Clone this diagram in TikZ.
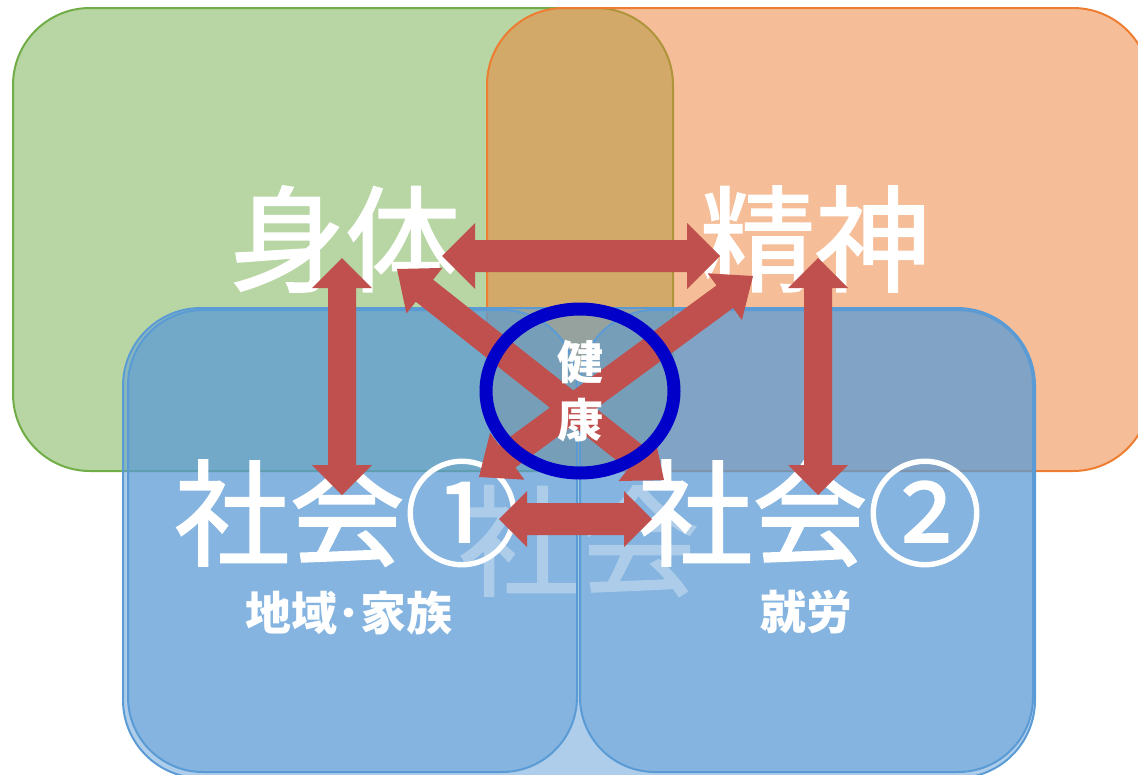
\documentclass[tikz,border=0pt]{standalone}
\usepackage{fontspec}
\newfontfamily\cjk{Noto Sans CJK JP}
\newfontfamily\cjkmed{Noto Sans CJK JP}[FakeBold=1.5]
\usetikzlibrary{calc}
\definecolor{pgreen}{HTML}{70AD47}
\definecolor{porange}{HTML}{ED7D31}
\definecolor{pblue}{HTML}{5B9BD5}
\definecolor{pred}{HTML}{C0504D}
\definecolor{ering}{RGB}{0,0,200}
\tikzset{
  panel/.style={line width=2pt, fill opacity=.5, draw opacity=1},
  bigtxt/.style={text=white, inner sep=0pt, font=\cjkmed\fontsize{115}{120}\selectfont},
  subtxt/.style={text=white, inner sep=0pt, font=\cjk\bfseries\fontsize{46}{50}\selectfont},
  fadetxt/.style={text=white, inner sep=0pt, font=\cjkmed\fontsize{120}{125}\selectfont},
  arrowfill/.style={fill=pred},
}
\newcommand\dblarr[5]{%
  \path ($(#1)!#5!(#2)$) coordinate (ap) ($(#2)!#5!(#1)$) coordinate (aq);
  \fill[arrowfill] (#1) -- ($(ap)!#4!90:(#2)$) -- ($(ap)!#3!90:(#2)$)
    -- ($(aq)!#3!-90:(#1)$) -- ($(aq)!#4!-90:(#1)$) -- (#2)
    -- ($(aq)!#4!90:(#1)$) -- ($(aq)!#3!90:(#1)$)
    -- ($(ap)!#3!-90:(#2)$) -- ($(ap)!#4!-90:(#2)$) -- cycle;}
\begin{document}
\begin{tikzpicture}[x=1pt,y=-1pt]
\useasboundingbox (0,0) rectangle (1138,774);
\begin{scope}
\clip (0,0) rectangle (1138,774);
% green and orange panels
\draw[panel, draw=pgreen, fill=pgreen, rounded corners=77pt] (13,8) rectangle (673,471);
\draw[panel, draw=porange, fill=porange, rounded corners=77pt] (487,8) rectangle (1150,471);
% blue back panel
\draw[panel, draw=pblue, fill=pblue, rounded corners=78pt] (123,308) rectangle (1035,778);
\node[fadetxt] (fade) at (579,541) {社会};
% inner blue panels
\draw[panel, draw=pblue, fill=pblue, rounded corners=75pt] (128,310) rectangle (577,772);
\draw[panel, draw=pblue, fill=pblue, rounded corners=75pt] (580,310) rectangle (1033,772);
\end{scope}
% texts
\node[bigtxt] (body) at (345,239) {身体};
\node[bigtxt] (mind) at (815,239) {精神};
\node[bigtxt] (soc1) at (347,513) {社会①};
\node[bigtxt] (soc2) at (810,513) {社会②};
\node[subtxt] (sub1) at (349,613) {地域･家族};
\node[subtxt] (sub2) at (806,612) {就労};
% arrow end points
\coordinate (bodyE) at (442,256);
\coordinate (mindW) at (720,256);
\coordinate (bodyS) at (342,258);
\coordinate (soc1N) at (342,495);
\coordinate (mindS) at (818,258);
\coordinate (soc2N) at (818,495);
\coordinate (soc1E) at (499,519);
\coordinate (soc2W) at (652,519);
\coordinate (bodySE) at (397,269);
\coordinate (soc2NW) at (664,480);
\coordinate (mindSW) at (753,276);
\coordinate (soc1NE) at (479,477);
\dblarr{bodyE}{mindW}{16pt}{33pt}{33pt}
\dblarr{bodyS}{soc1N}{14pt}{30pt}{30pt}
\dblarr{mindS}{soc2N}{14pt}{30pt}{30pt}
\dblarr{soc1E}{soc2W}{16pt}{28pt}{28pt}
\dblarr{bodySE}{soc2NW}{14pt}{29pt}{35pt}
\dblarr{mindSW}{soc1NE}{14pt}{29pt}{35pt}
% health
\node[text=white, inner sep=0pt, align=center, font=\cjk\bfseries\fontsize{46}{58}\selectfont] (health) at (580,391) {健\\康};
\draw[ering, line width=13pt] (health.center) ellipse [x radius=94pt, y radius=82pt];
\end{tikzpicture}
\end{document}
